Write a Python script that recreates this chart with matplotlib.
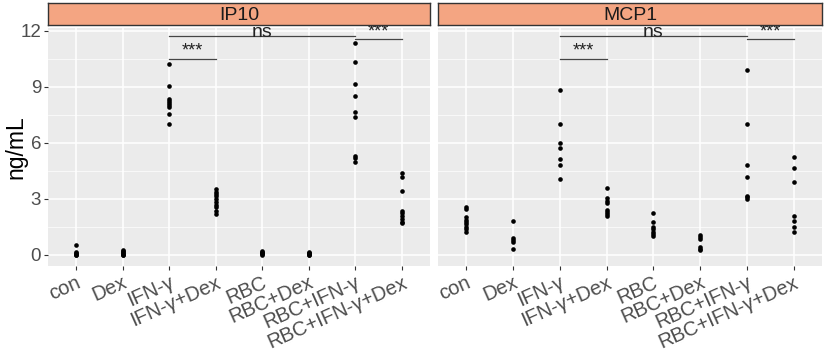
import matplotlib
matplotlib.use("Agg")
import matplotlib.pyplot as plt
import numpy as np

plt.rcParams['font.family'] = ['Liberation Sans', 'DejaVu Sans']

groups = ["con", "Dex", "IFN-γ", "IFN-γ+Dex", "RBC", "RBC+Dex",
          "RBC+IFN-γ", "RBC+IFN-γ+Dex"]

# IP10 values (ng/mL), one list per group
ip10 = [
    [0.53, 0.15, 0.1, 0.05, 0.02, 0.0],
    [0.25, 0.2, 0.15, 0.1, 0.05, 0.02, 0.0],
    [10.23, 9.04, 8.38, 8.25, 8.14, 8.02, 7.91, 7.57, 7.02],
    [3.53, 3.4, 3.28, 3.15, 3.0, 2.85, 2.7, 2.55, 2.38, 2.18],
    [0.22, 0.17, 0.12, 0.08, 0.04, 0.0],
    [0.18, 0.13, 0.09, 0.05, 0.02, 0.0],
    [11.36, 10.35, 9.18, 8.52, 7.64, 7.39, 5.32, 5.18, 4.97],
    [4.38, 4.16, 3.41, 2.37, 2.23, 2.11, 1.91, 1.78, 1.70],
]

# MCP1 values (ng/mL)
mcp1 = [
    [2.59, 2.46, 2.02, 1.87, 1.75, 1.64, 1.52, 1.38, 1.22],
    [1.82, 0.93, 0.80, 0.68, 0.31],
    [8.84, 7.03, 6.02, 5.71, 5.13, 4.82, 4.08],
    [3.61, 3.04, 2.91, 2.80, 2.41, 2.29, 2.18, 2.07],
    [2.25, 1.79, 1.50, 1.38, 1.23, 1.11, 1.02],
    [1.07, 0.95, 0.86, 0.45, 0.32, 0.25],
    [9.89, 7.03, 4.82, 4.20, 3.18, 3.09, 2.98],
    [5.25, 4.68, 3.89, 2.11, 1.82, 1.52, 1.22],
]

panels = ["IP10", "MCP1"]
panel_data = [ip10, mcp1]

# comparisons: (group a, group b, bar height, label)
comparisons = [
    ("IFN-γ", "IFN-γ+Dex", 10.5, "***"),
    ("IFN-γ", "RBC+IFN-γ", 11.73, "ns"),
    ("RBC+IFN-γ", "RBC+IFN-γ+Dex", 11.55, "***"),
]

W, H = 827, 353
fig = plt.figure(figsize=(W / 100, H / 100), dpi=100)

panel_px = [(48, 430), (438, 822)]
top_px, bot_px = 28, 266
strip_top, strip_bot = 3, 25

for k, (name, data) in enumerate(zip(panels, panel_data)):
    l, r = panel_px[k]
    ax = fig.add_axes([l / W, (H - bot_px) / H, (r - l) / W, (bot_px - top_px) / H])
    ax.set_facecolor('#EBEBEB')
    for s in ax.spines.values():
        s.set_visible(False)
    ax.set_xlim(0.4, 8.6)
    ax.set_ylim(-0.59, 12.16)
    ax.set_yticks([0, 3, 6, 9, 12])
    ax.set_yticks([1.5, 4.5, 7.5, 10.5], minor=True)
    ax.set_xticks(np.arange(1, 9))
    ax.grid(True, which='major', color='white', lw=1.1)
    ax.grid(True, which='minor', axis='y', color='white', lw=0.5)
    ax.set_axisbelow(True)
    ax.tick_params(which='minor', length=0)
    ax.tick_params(which='major', length=3, color='#333333', width=0.8,
                   labelsize=14.5, labelcolor='#4D4D4D', pad=2)
    ax.tick_params(axis='y', labelsize=13.5)
    ax.set_xticklabels(groups, rotation=24, ha='right', rotation_mode='anchor')
    if k == 0:
        ax.set_yticklabels(["0", "3", "6", "9", "12"])
        ax.set_ylabel("ng/mL", fontsize=16.5)
        ax.yaxis.set_label_coords(-0.055, 0.5)
    else:
        ax.set_yticklabels([])
        ax.tick_params(axis='y', length=0)

    for i, vals in enumerate(data):
        ax.scatter(np.full(len(vals), i + 1), vals, s=11, color='black',
                   zorder=3, linewidths=0)

    for a, b, yy, lab in comparisons:
        xa = groups.index(a) + 1
        xb = groups.index(b) + 1
        ax.plot([xa, xb], [yy, yy], color='#444444', lw=0.9, clip_on=False)
        if lab == "ns":
            ax.text((xa + xb) / 2, yy - 0.05, lab, ha='center', va='baseline',
                    fontsize=14, color='#222222', clip_on=False)
        else:
            ax.text((xa + xb) / 2, yy - 0.05, lab, ha='center', va='bottom',
                    fontsize=13, color='#222222')

    sax = fig.add_axes([l / W, (H - strip_bot) / H, (r - l) / W,
                        (strip_bot - strip_top) / H])
    sax.set_facecolor('#F4A582')
    sax.set_xticks([])
    sax.set_yticks([])
    for s in sax.spines.values():
        s.set_color('#333333')
        s.set_linewidth(1.0)
    sax.text(0.5, 0.45, name, ha='center', va='center', fontsize=14,
             color='#1A1A1A', transform=sax.transAxes)

fig.savefig("out.png", dpi=100)
